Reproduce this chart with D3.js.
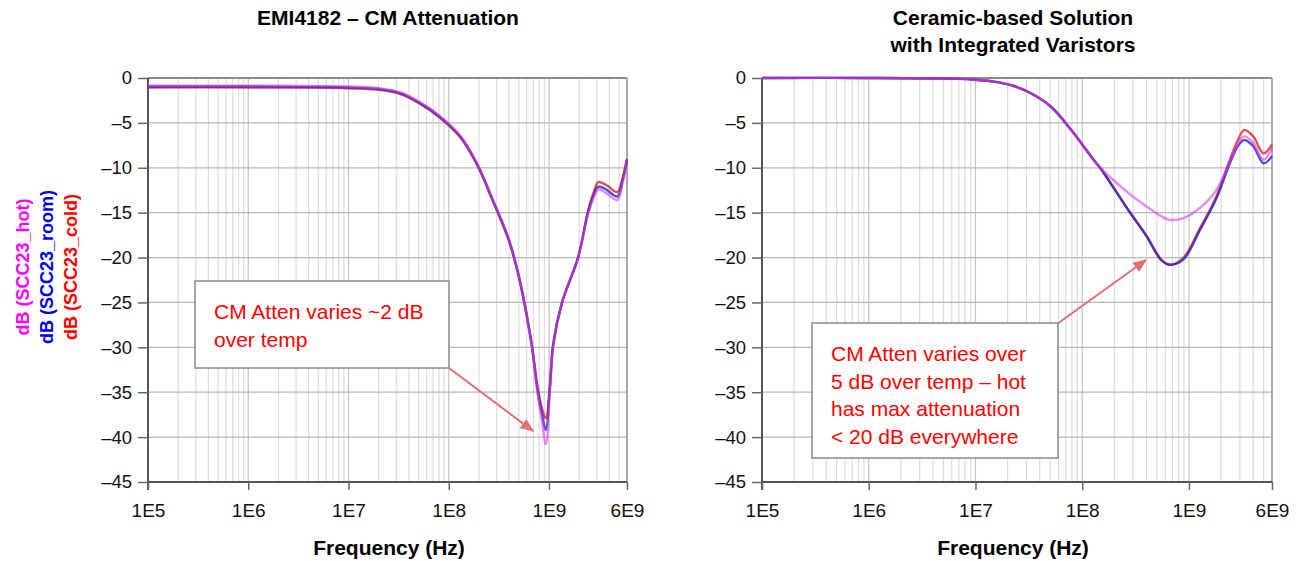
<!DOCTYPE html>
<meta charset="utf-8">
<style>
  body { margin: 0; background: #fff; }
  text { font-family: "Liberation Sans", Arial, sans-serif; }
</style>
<script src="https://d3js.org/d3.v7.min.js"></script>
<svg width="1301" height="561"></svg>
<script>
const svg = d3.select('svg');

// left panel: EMI4182
const freqL = [1e5, 1e6, 6.6e6, 1e7, 2.1e7, 3.3e7, 5.2e7, 8.1e7, 1.3e8, 1.9e8, 2.75e8, 4e8, 5e8,
  5.9e8, 6.76e8, 7.67e8, 8.5e8, 9.3e8, 1.02e9, 1.1e9, 1.35e9, 1.95e9, 2.45e9, 2.8e9, 3.1e9, 3.7e9, 4.8e9, 5.4e9, 6e9];
const hotL = [-0.85, -0.85, -0.9, -0.95, -1.15, -1.6, -2.7, -4.2, -6.4, -9.4, -13.5, -18.0, -22.0,
  -26.0, -30.0, -35.0, -38.2, -40.8, -35.0, -30.0, -25.0, -20.0, -15.2, -13.3, -12.4, -12.8, -13.6, -11.8, -9.2];
const roomL = [-0.95, -0.95, -1.0, -1.05, -1.25, -1.7, -2.8, -4.3, -6.5, -9.5, -13.6, -18.1, -22.1,
  -26.0, -29.9, -34.7, -37.4, -39.2, -34.6, -29.8, -25.0, -20.0, -15.0, -13.0, -12.1, -12.4, -13.2, -11.5, -9.1];
const coldL = [-1.05, -1.05, -1.1, -1.15, -1.35, -1.8, -2.9, -4.4, -6.6, -9.6, -13.7, -18.2, -22.1,
  -26.0, -29.8, -34.3, -36.8, -37.9, -34.2, -29.6, -25.0, -20.0, -14.8, -12.7, -11.6, -11.9, -12.7, -11.2, -9.0];

// right panel: ceramic-based solution
const freqR = [1e5, 1e6, 7e6, 1e7, 1.5e7, 2.15e7, 3.3e7, 5.1e7, 7.9e7, 1.22e8, 1.51e8, 2.7e8, 4e8,
  5.5e8, 6.6e8, 8.9e8, 1.26e9, 1.78e9, 2.4e9, 2.9e9, 3.3e9, 4e9, 5e9, 6e9];
const hotR = [0, 0, -0.1, -0.2, -0.4, -0.8, -1.7, -3.2, -5.8, -8.8, -10.1, -12.8, -14.3,
  -15.4, -15.8, -15.6, -14.5, -12.6, -9.4, -7.2, -6.5, -7.2, -9.1, -7.8];
const roomR = [0, 0, -0.1, -0.2, -0.4, -0.8, -1.7, -3.2, -5.8, -8.8, -10.2, -14.7, -17.6,
  -20.3, -20.8, -20.2, -17.0, -13.6, -9.6, -7.5, -6.9, -7.6, -9.5, -8.7];
const coldR = [0, 0, -0.1, -0.2, -0.4, -0.8, -1.7, -3.2, -5.8, -8.8, -10.2, -14.7, -17.6,
  -20.2, -20.8, -20.0, -16.8, -13.4, -9.2, -6.8, -5.8, -6.5, -8.4, -7.4];

const xTicks = [1e5, 1e6, 1e7, 1e8, 1e9, 6e9];
const xTickLabels = ['1E5', '1E6', '1E7', '1E8', '1E9', '6E9'];
const yTicks = [0, -5, -10, -15, -20, -25, -30, -35, -40, -45];

const seriesColors = { cold: '#d8282a', room: '#2c24c0', hot: '#d838e0' };

svg.append('defs').append('marker')
  .attr('id', 'arr').attr('viewBox', '0 0 10 10')
  .attr('refX', 9).attr('refY', 5)
  .attr('markerWidth', 7).attr('markerHeight', 7)
  .attr('orient', 'auto')
  .append('path').attr('d', 'M0,1 L10,5 L0,9 z').attr('fill', '#e07070');

function panel(x0, x1, freq, series, cx) {
  const x = d3.scaleLog().domain([1e5, 6e9]).range([x0, x1]);
  const y = d3.scaleLinear().domain([0, -45]).range([78, 482]);
  const g = svg.append('g');

  // minor vertical grid
  const minors = [];
  for (let e = 5; e <= 9; e++) for (let m = 1; m <= 9; m++) {
    const v = m * Math.pow(10, e);
    if (v <= 6e9) minors.push(v);
  }
  g.selectAll('.vg').data(minors).join('line')
    .attr('x1', d => x(d)).attr('x2', d => x(d))
    .attr('y1', 78).attr('y2', 482)
    .attr('stroke', d => xTicks.includes(d) ? '#c4c4c4' : '#dcdcdc')
    .attr('stroke-width', 1.2);

  g.selectAll('.hg').data(yTicks).join('line')
    .attr('x1', x0).attr('x2', x1)
    .attr('y1', d => y(d)).attr('y2', d => y(d))
    .attr('stroke', d => d === 0 ? '#8c8c8c' : '#b8b8b8')
    .attr('stroke-width', d => d === 0 ? 2 : 1.3);

  // right border
  g.append('line').attr('x1', x1).attr('x2', x1).attr('y1', 78).attr('y2', 482)
    .attr('stroke', '#9a9a9a').attr('stroke-width', 1.5);

  // y axis
  const ya = g.append('g').attr('transform', `translate(${x0},0)`)
    .call(d3.axisLeft(y).tickValues(yTicks).tickSize(10).tickPadding(6)
      .tickFormat(d => d === 0 ? '0' : '\u2013' + Math.abs(d)));
  ya.select('.domain').attr('stroke', '#555').attr('stroke-width', 2)
    .attr('d', `M0,78V490`);
  ya.selectAll('.tick line').attr('stroke', '#666').attr('stroke-width', 1.5);
  ya.selectAll('text').attr('font-size', 18.5).attr('fill', '#111');

  // x axis
  const xa = g.append('g').attr('transform', 'translate(0,482)')
    .call(d3.axisBottom(x).tickValues(xTicks).tickSize(8).tickPadding(14)
      .tickFormat((d, i) => xTickLabels[i]));
  xa.select('.domain').attr('stroke', '#555').attr('stroke-width', 2)
    .attr('d', `M${x0},0H${x1}`);
  xa.selectAll('.tick line').attr('stroke', '#666').attr('stroke-width', 1.5);
  xa.selectAll('text').attr('font-size', 19).attr('fill', '#111');

  g.append('text').attr('x', cx).attr('y', 555).attr('text-anchor', 'middle')
    .attr('font-size', 21).attr('font-weight', 'bold').text('Frequency (Hz)');

  const line = d3.line().x((d, i) => x(freq[i])).y(d => y(d)).curve(d3.curveCatmullRom.alpha(0.5));
  ['cold', 'room', 'hot'].forEach(k => {
    g.append('path').datum(series[k])
      .attr('d', line).attr('fill', 'none')
      .attr('stroke', seriesColors[k]).attr('stroke-width', 2.4)
      .attr('stroke-opacity', k === 'hot' ? 0.6 : 0.8);
  });
  return { x, y, g };
}

const L = panel(148, 627, freqL, { hot: hotL, room: roomL, cold: coldL }, 389);
const R = panel(762, 1272, freqR, { hot: hotR, room: roomR, cold: coldR }, 1013);

// titles
svg.append('text').attr('x', 388).attr('y', 25).attr('text-anchor', 'middle')
  .attr('font-size', 21).attr('font-weight', 'bold').text('EMI4182 \u2013 CM Attenuation');
svg.append('text').attr('x', 1013).attr('y', 25).attr('text-anchor', 'middle')
  .attr('font-size', 21).attr('font-weight', 'bold').text('Ceramic-based Solution');
svg.append('text').attr('x', 1013).attr('y', 52).attr('text-anchor', 'middle')
  .attr('font-size', 21).attr('font-weight', 'bold').text('with Integrated Varistors');

// y labels
[['dB (SCC23_hot)', '#ff00ff', 29], ['dB (SCC23_room)', '#0000ee', 53], ['dB (SCC23_cold)', '#ff0000', 77]]
  .forEach(([t, c, px]) => {
    svg.append('text').attr('transform', `translate(${px},267) rotate(-90)`)
      .attr('text-anchor', 'middle').attr('font-size', 18).attr('font-weight', 'bold')
      .attr('fill', c).text(t);
  });

// annotations
function note(x, y, w, h, lines, ax0, ay0, ax1, ay1) {
  svg.append('line').attr('x1', ax0).attr('y1', ay0).attr('x2', ax1).attr('y2', ay1)
    .attr('stroke', '#e07070').attr('stroke-width', 2).attr('marker-end', 'url(#arr)');
  svg.append('rect').attr('x', x).attr('y', y).attr('width', w).attr('height', h)
    .attr('fill', '#fff').attr('stroke', '#8a8a8a').attr('stroke-width', 1.5);
  lines.forEach((t, i) => {
    svg.append('text').attr('x', x + 19).attr('y', y + 38 + i * 27.5)
      .attr('font-size', 21).attr('fill', '#ff0000').text(t);
  });
}
note(195, 281, 254, 87, ['CM Atten varies ~2 dB', 'over temp'], 449, 368, 533, 431);
note(812, 323, 246, 135, ['CM Atten varies over', '5 dB over temp \u2013 hot', 'has max attenuation', '< 20 dB everywhere'],
  1057, 324, 1146, 260);
</script>
